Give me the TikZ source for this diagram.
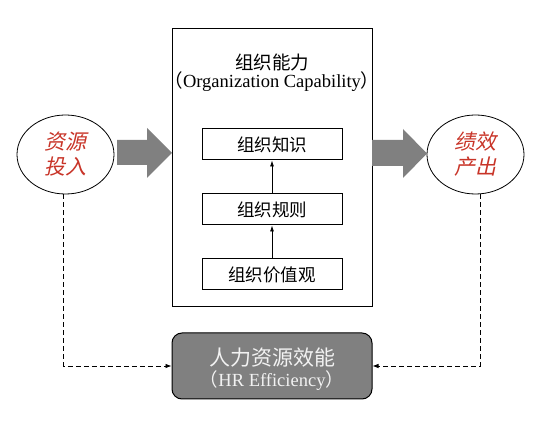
\documentclass[tikz,border=0pt]{standalone}
\usepackage{fontspec}
\setmainfont{Liberation Serif}
\newfontfamily\cjk{Noto Sans CJK SC}
\newfontfamily\cjkit[FakeSlant=0.22]{Noto Sans CJK SC}
\usetikzlibrary{shapes.geometric,arrows.meta}
\definecolor{arrgray}{RGB}{128,128,128}
\definecolor{hred}{RGB}{200,52,40}
\definecolor{lighttext}{RGB}{242,242,242}
\tikzset{
  ovalnode/.style={ellipse,draw,line width=0.8pt,minimum width=97pt,minimum height=79pt,inner sep=0pt,
    align=center,text=hred,font=\cjkit\fontsize{21}{25}\selectfont},
  bigbox/.style={draw,line width=1pt,minimum width=200pt,minimum height=278pt,inner sep=0pt},
  levelbox/.style={draw,line width=1pt,minimum width=140pt,minimum height=31pt,inner sep=0pt,
    font=\cjk\fontsize{17.5}{20}\selectfont},
  hrbox/.style={draw,line width=1pt,fill=arrgray,rounded corners=10pt,minimum width=200pt,minimum height=66pt,
    inner sep=0pt,align=center,text=lighttext},
  uparrow/.style={-{Latex[length=6pt,width=4pt]},line width=0.7pt},
  dasharrow/.style={dashed,dash pattern=on 5pt off 3pt,line width=0.7pt,-{Latex[length=6pt,width=4.5pt]}},
  blockarrow/.style={fill=arrgray,draw=none}
}
\begin{document}
\begin{tikzpicture}[x=1pt,y=-1pt]
\useasboundingbox (0,0) rectangle (541,427);
\node[ovalnode] (L) at (65.5,154.5) {资源\\投入};
\node[ovalnode] (R) at (475.5,154.5) {绩效\\产出};
\node[bigbox] (big) at (272,168) {};
\node[font=\cjk\fontsize{18.5}{22}\selectfont] (t1) at (272,62) {组织能力};
\node[font=\fontsize{18.5}{22}\selectfont,inner sep=0pt] (t2) at (272,82) {{\cjk （}Organization Capability{\cjk ）}};
\node[levelbox] (k1) at (272,144.5) {组织知识};
\node[levelbox] (k2) at (272,209.5) {组织规则};
\node[levelbox] (k3) at (272,274.5) {组织价值观};
\draw[uparrow] (k3.north) -- (k2.south);
\draw[uparrow] (k2.north) -- (k1.south);
\node[hrbox] (hr) at (272,366) {};
\node[text=lighttext,font=\cjk\fontsize{21}{24}\selectfont] (h1) at (272,358) {人力资源效能};
\node[text=lighttext,font=\fontsize{18.5}{20}\selectfont,inner sep=0pt] (h2) at (272,381) {{\cjk （}HR Efficiency{\cjk ）}};
\fill[blockarrow] (117,140) -- (147,140) -- (147,128) -- (172,153) -- (147,178) -- (147,165) -- (117,165) -- cycle;
\fill[blockarrow] (372,140) -- (403,140) -- (403,129) -- (427,153.5) -- (403,178) -- (403,166) -- (372,166) -- cycle;
\draw[dasharrow] ([xshift=-2pt]L.south) |- (hr.west);
\draw[dasharrow] ([xshift=4.5pt]R.south) |- (hr.east);
\end{tikzpicture}
\end{document}
